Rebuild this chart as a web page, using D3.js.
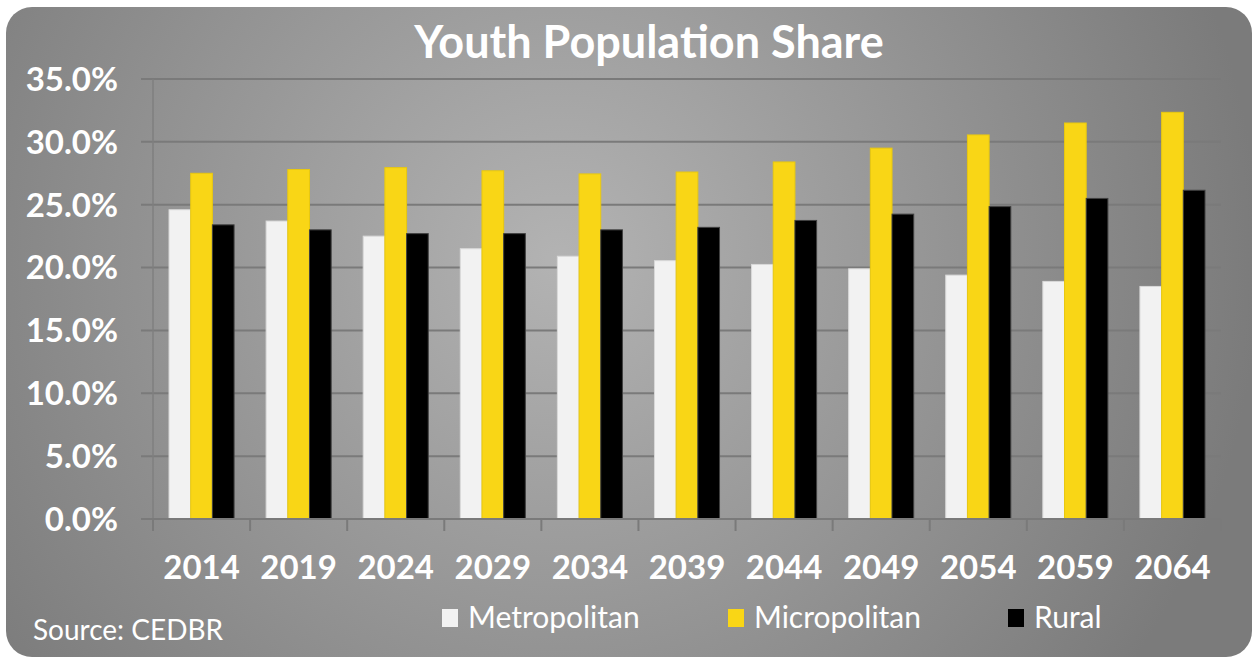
<!DOCTYPE html>
<html>
<head>
<meta charset="utf-8">
<script src="https://cdn.jsdelivr.net/npm/d3@7"></script>
<style>
    body { margin: 0; background: #fff; }
    svg { display: block; font-family: Lato, 'Open Sans', sans-serif; }
</style>
</head>
<body>
<svg id="chart" width="1255" height="659"></svg>
<script>
var years = ['2014', '2019', '2024', '2029', '2034', '2039', '2044', '2049', '2054', '2059', '2064'];
var seriesNames = ['Metropolitan', 'Micropolitan', 'Rural'];
var metropolitan = [24.6, 23.7, 22.5, 21.5, 20.9, 20.55, 20.25, 19.9, 19.4, 18.9, 18.5];
var micropolitan = [27.5, 27.8, 27.95, 27.7, 27.45, 27.6, 28.4, 29.5, 30.55, 31.5, 32.35];
var rural = [23.4, 23.0, 22.7, 22.7, 23.0, 23.2, 23.75, 24.25, 24.85, 25.5, 26.15];
var yTicks = [0, 5, 10, 15, 20, 25, 30, 35];
var colors = ['#f2f2f2', '#f9d616', '#000000'];
var strokes = ['#d9d9d9', '#e8c810', '#404040'];

var svg = d3.select('#chart');

// background panel with radial shading
var defs = svg.append('defs');
var grad = defs.append('radialGradient')
    .attr('id', 'bg')
    .attr('gradientUnits', 'userSpaceOnUse')
    .attr('cx', 560).attr('cy', 260).attr('r', 700);
grad.append('stop').attr('offset', '0%').attr('stop-color', '#b3b3b3');
grad.append('stop').attr('offset', '100%').attr('stop-color', '#7b7b7b');

svg.append('rect')
    .attr('x', 6).attr('y', 7)
    .attr('width', 1246).attr('height', 650)
    .attr('rx', 26).attr('ry', 26)
    .attr('fill', 'url(#bg)');

var margin = {left: 153, right: 1221, top: 79, bottom: 519};

var x = d3.scaleBand()
    .domain(years)
    .range([margin.left, margin.right])
    .paddingInner(0)
    .paddingOuter(0);

var y = d3.scaleLinear()
    .domain([0, 35])
    .range([margin.bottom, margin.top]);

var groupWidth = x.bandwidth() * 0.67;
var x1 = d3.scaleBand()
    .domain(seriesNames)
    .range([0, groupWidth]);

// gridlines
svg.append('g')
    .selectAll('line')
    .data(yTicks.slice(1))
    .enter().append('line')
    .attr('x1', margin.left - 12)
    .attr('x2', margin.right)
    .attr('y1', function (d) { return y(d); })
    .attr('y2', function (d) { return y(d); })
    .attr('stroke', '#7a7a7a')
    .attr('stroke-width', 2);

// y axis vertical line
svg.append('line')
    .attr('x1', margin.left).attr('x2', margin.left)
    .attr('y1', margin.top).attr('y2', margin.bottom)
    .attr('stroke', '#7f7f7f')
    .attr('stroke-width', 1.5);

// y tick labels
svg.append('g')
    .selectAll('text')
    .data(yTicks)
    .enter().append('text')
    .attr('x', 118)
    .attr('y', function (d) { return y(d); })
    .attr('dy', '0.36em')
    .attr('text-anchor', 'end')
    .attr('fill', '#fff')
    .attr('font-weight', 'bold')
    .attr('font-size', 33)
    .text(function (d) { return d.toFixed(1) + '%'; });

// bars
var allSeries = [metropolitan, micropolitan, rural];
seriesNames.forEach(function (name, s) {
    svg.append('g')
        .selectAll('rect')
        .data(allSeries[s])
        .enter().append('rect')
        .attr('x', function (d, i) {
            return x(years[i]) + (x.bandwidth() - groupWidth) / 2 + x1(name);
        })
        .attr('y', function (d) { return y(d); })
        .attr('width', x1.bandwidth())
        .attr('height', function (d) { return y(0) - y(d); })
        .attr('fill', colors[s])
        .attr('stroke', strokes[s])
        .attr('stroke-width', 1);
});

// x axis baseline
svg.append('line')
    .attr('x1', margin.left - 12).attr('x2', margin.right)
    .attr('y1', y(0)).attr('y2', y(0))
    .attr('stroke', '#7a7a7a')
    .attr('stroke-width', 2);

// category tick marks
var tickXs = years.map(function (d) { return x(d); }).concat([margin.right]);
svg.append('g')
    .selectAll('line')
    .data(tickXs)
    .enter().append('line')
    .attr('x1', function (d) { return d; })
    .attr('x2', function (d) { return d; })
    .attr('y1', y(0))
    .attr('y2', y(0) + 12)
    .attr('stroke', '#7a7a7a')
    .attr('stroke-width', 2);

// x labels
svg.append('g')
    .selectAll('text')
    .data(years)
    .enter().append('text')
    .attr('x', function (d) { return x(d) + x.bandwidth() / 2; })
    .attr('y', 579)
    .attr('text-anchor', 'middle')
    .attr('fill', '#fff')
    .attr('font-weight', 'bold')
    .attr('font-size', 33)
    .text(function (d) { return d; });

// title
svg.append('text')
    .attr('x', 649)
    .attr('y', 58)
    .attr('text-anchor', 'middle')
    .attr('fill', '#fff')
    .attr('font-weight', 'bold')
    .attr('font-size', 45)
    .text('Youth Population Share');

// legend
var legendX = [442, 728, 1008];
seriesNames.forEach(function (name, s) {
    svg.append('rect')
        .attr('x', legendX[s]).attr('y', 609)
        .attr('width', 16).attr('height', 18)
        .attr('fill', colors[s]);
    svg.append('text')
        .attr('x', legendX[s] + 26)
        .attr('y', 628)
        .attr('fill', '#fff')
        .attr('font-size', 30)
        .text(name);
});

// source note
svg.append('text')
    .attr('x', 33)
    .attr('y', 640)
    .attr('fill', '#fff')
    .attr('font-size', 28)
    .text('Source: CEDBR');
</script>
</body>
</html>
